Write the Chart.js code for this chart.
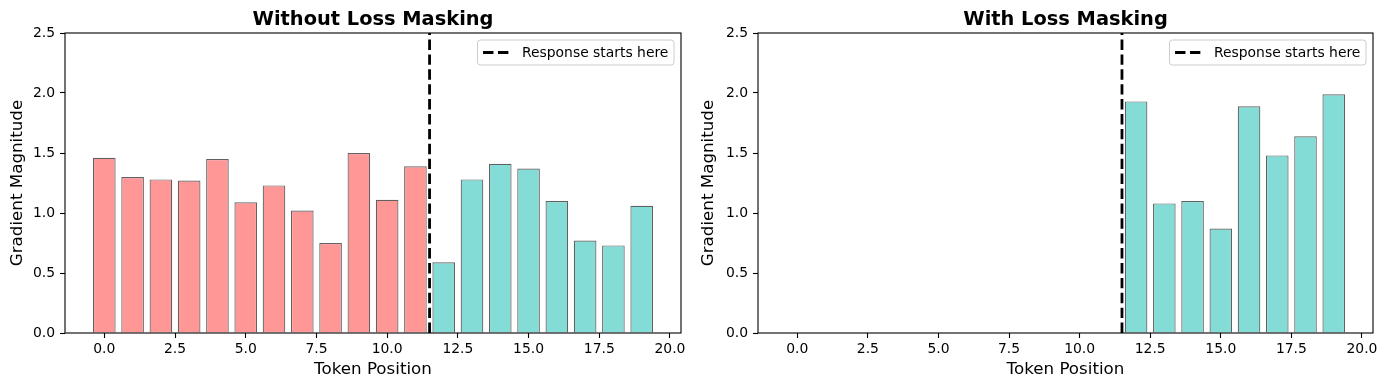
<!DOCTYPE html>
<html>
<head>
<meta charset="utf-8">
<script src="https://cdn.jsdelivr.net/npm/chart.js@4"></script>
<style>
    body { margin: 0; background: #fff; }
    #wrap { position: relative; width: 1387px; height: 390px; }
    #izq { position: absolute; left: 0; top: 0; }
    #der { position: absolute; left: 693px; top: 0; }
</style>
</head>
<body>
<div id="wrap">
    <canvas id="izq" width="693" height="390"></canvas>
    <canvas id="der" width="694" height="390"></canvas>
</div>
<script>
const tokenPositions = [0, 1, 2, 3, 4, 5, 6, 7, 8, 9, 10, 11, 12, 13, 14, 15, 16, 17, 18, 19];
const withoutMaskValues = [1.46, 1.30, 1.28, 1.27, 1.45, 1.09, 1.23, 1.02, 0.75, 1.50, 1.11, 1.39, 0.59, 1.28, 1.41, 1.37, 1.10, 0.77, 0.73, 1.06];
const withMaskValues = [0, 0, 0, 0, 0, 0, 0, 0, 0, 0, 0, 0, 1.93, 1.08, 1.10, 0.87, 1.89, 1.48, 1.64, 1.99];
const responseStart = 11.5;
const xTickValues = [0, 2.5, 5, 7.5, 10, 12.5, 15, 17.5, 20];
const chartTitles = ['Without Loss Masking', 'With Loss Masking'];

const promptColor = 'rgb(255, 151, 151)';
const responseColor = 'rgb(131, 220, 214)';
const FONT = "'DejaVu Sans', sans-serif";

Chart.defaults.font.family = FONT;
Chart.defaults.color = '#000';

// titulo centrado sobre el area, marco de 4 lados y leyenda dentro del area
const marcoPlugin = {
    id: 'marco',
    afterDatasetsDraw(chart) {
        const a = chart.chartArea;
        const ctx = chart.ctx;
        ctx.save();
        ctx.strokeStyle = '#000';
        ctx.lineWidth = 1.1;
        ctx.strokeRect(a.left, a.top, a.right - a.left, a.bottom - a.top);
        ctx.restore();
    },
    afterDraw(chart, args, opts) {
        const a = chart.chartArea;
        const ctx = chart.ctx;
        ctx.save();
        ctx.fillStyle = '#000';
        ctx.font = 'bold 19.4px ' + FONT;
        ctx.textAlign = 'center';
        ctx.textBaseline = 'alphabetic';
        ctx.fillText(opts.title, (a.left + a.right) / 2, a.top - 8);

        // leyenda
        const ds = chart.data.datasets.find(d => d.type === 'line');
        ctx.font = '13.9px ' + FONT;
        const tw = ctx.measureText(ds.label).width;
        const w = 5.6 + 27.8 + 11.1 + tw + 5.6;
        const h = 25;
        const x = a.right - 7 - w;
        const y = a.top + 7;
        const r = 3;
        ctx.beginPath();
        ctx.moveTo(x + r, y);
        ctx.arcTo(x + w, y, x + w, y + h, r);
        ctx.arcTo(x + w, y + h, x, y + h, r);
        ctx.arcTo(x, y + h, x, y, r);
        ctx.arcTo(x, y, x + w, y, r);
        ctx.closePath();
        ctx.fillStyle = 'rgba(255,255,255,0.8)';
        ctx.fill();
        ctx.strokeStyle = '#ccc';
        ctx.lineWidth = 1;
        ctx.stroke();

        const cy = y + h / 2;
        ctx.beginPath();
        ctx.setLineDash(ds.borderDash);
        ctx.lineWidth = ds.borderWidth;
        ctx.strokeStyle = ds.borderColor;
        ctx.moveTo(x + 5.6, cy);
        ctx.lineTo(x + 5.6 + 27.8, cy);
        ctx.stroke();
        ctx.setLineDash([]);

        ctx.fillStyle = '#000';
        ctx.textAlign = 'left';
        ctx.textBaseline = 'middle';
        ctx.fillText(ds.label, x + 5.6 + 27.8 + 11.1, cy + 0.5);
        ctx.restore();
    }
};

function crearGrafico(canvasId, values, colorFn, title, yTitlePad, padRight) {
    const barData = [];
    const barColors = [];
    tokenPositions.forEach((t, i) => {
        if (values[i] > 0) {
            barData.push({x: t, y: values[i]});
            barColors.push(colorFn(t));
        }
    });

    return new Chart(document.getElementById(canvasId), {
        type: 'bar',
        data: {
            datasets: [{
                type: 'bar',
                label: 'Gradient',
                data: barData,
                backgroundColor: barColors,
                borderColor: 'rgba(30, 30, 30, 0.7)',
                borderWidth: 1.2,
                categoryPercentage: 1.0,
                barPercentage: 0.8,
                order: 2
            }, {
                type: 'line',
                label: 'Response starts here',
                data: [{x: responseStart, y: 0}, {x: responseStart, y: 2.5}],
                borderColor: '#000',
                borderWidth: 2.8,
                borderDash: [10.4, 4.5],
                pointRadius: 0,
                fill: false,
                order: 1
            }]
        },
        options: {
            responsive: false,
            animation: false,
            layout: {padding: {left: 0, top: 33, right: padRight, bottom: 0}},
            plugins: {
                legend: {display: false},
                tooltip: {enabled: false},
                marco: {title: title}
            },
            scales: {
                x: {
                    type: 'linear',
                    min: -1.39,
                    max: 20.39,
                    offset: false,
                    afterBuildTicks: axis => { axis.ticks = xTickValues.map(v => ({value: v})); },
                    afterFit: scale => { scale.height = 57; },
                    grid: {display: true, drawOnChartArea: false, offset: false, drawTicks: true, tickLength: 5, tickColor: '#000', tickWidth: 1.1},
                    border: {display: false},
                    ticks: {
                        padding: 3,
                        maxRotation: 0,
                        font: {size: 13.9},
                        callback: v => Number(v).toFixed(1)
                    },
                    title: {display: true, text: 'Token Position', font: {size: 16.7}, padding: {top: 0, bottom: 10}}
                },
                y: {
                    min: 0,
                    max: 2.5,
                    afterFit: scale => { scale.width = 65; },
                    grid: {display: true, drawOnChartArea: false, drawTicks: true, tickLength: 5, tickColor: '#000', tickWidth: 1.1},
                    border: {display: false},
                    ticks: {
                        stepSize: 0.5,
                        padding: 5,
                        font: {size: 13.9},
                        callback: v => Number(v).toFixed(1)
                    },
                    title: {display: true, text: 'Gradient Magnitude', font: {size: 16.7}, padding: {top: yTitlePad, bottom: 0}}
                }
            }
        },
        plugins: [marcoPlugin]
    });
}

crearGrafico('izq', withoutMaskValues, t => t < responseStart ? promptColor : responseColor, chartTitles[0], 8, 12);
crearGrafico('der', withMaskValues, t => responseColor, chartTitles[1], 6, 14);
</script>
</body>
</html>
